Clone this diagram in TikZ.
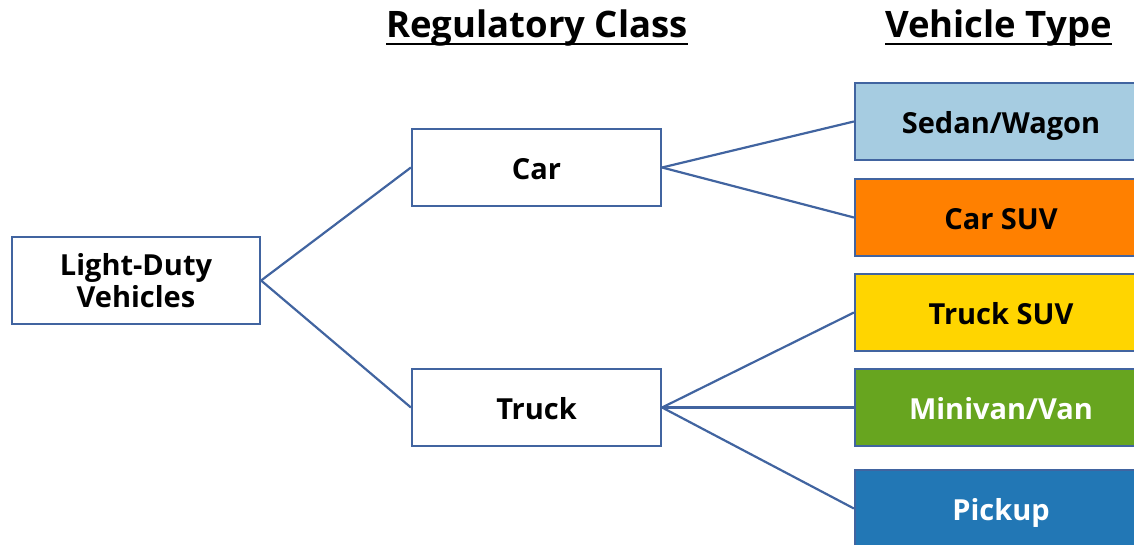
\documentclass[tikz,border=0pt]{standalone}
\usepackage{fontspec}
\setmainfont{Open Sans}
\usetikzlibrary{calc}
\definecolor{edge}{HTML}{4164A0}
\definecolor{sedan}{HTML}{A6CCE1}
\definecolor{carsuv}{HTML}{FF8000}
\definecolor{trucksuv}{HTML}{FFD500}
\definecolor{minivan}{HTML}{67A51F}
\definecolor{pickup}{HTML}{2277B5}
\begin{document}
\begin{tikzpicture}[x=1pt,y=-1pt,
  box/.style={draw=edge,line width=2.2pt,rectangle,inner sep=0pt,align=center,
    font=\fontsize{29}{31.5}\selectfont\bfseries},
  onebox/.style={box,text height=25pt,text depth=1.5pt},
  midbox/.style={onebox,minimum width=249pt,minimum height=77pt},
  typebox/.style={onebox,minimum width=292pt,minimum height=77pt},
  link/.style={draw=edge,line width=2.2pt},
  head/.style={font=\fontsize{36.5}{40}\selectfont\bfseries,inner sep=0pt,anchor=base},
  uline/.style={draw=black,line width=2.4pt}]
\clip (0,0) rectangle (1134,545);
\useasboundingbox (0,0) rectangle (1134,545);
\node[head] (hreg) at (537,38) {Regulatory Class};
\node[head] (htype) at (998.5,38) {Vehicle Type};
\draw[uline] ($(hreg.base west)+(0,6)$) -- ($(hreg.base east)+(0,6)$);
\draw[uline] ($(htype.base west)+(0,6)$) -- ($(htype.base east)+(0,6)$);
\node[box,fill=white,minimum width=248pt,minimum height=87pt] (ldv) at (136,280.5) {Light-Duty\\Vehicles};
\node[midbox,fill=white] (car) at (536.5,167.5) {Car};
\node[midbox,fill=white] (truck) at (536.5,407.5) {Truck};
\node[typebox,fill=sedan] (sedan) at (1001,121.5) {Sedan/Wagon};
\node[typebox,fill=carsuv] (csuv) at (1001,217.5) {Car SUV};
\node[typebox,fill=trucksuv] (tsuv) at (1001,312.5) {Truck SUV};
\node[typebox,fill=minivan,text=white] (van) at (1001,407.5) {Minivan/Van};
\node[typebox,fill=pickup,text=white] (pick) at (1001,508.5) {Pickup};
\draw[link] (ldv.east) -- (car.west);
\draw[link] (ldv.east) -- (truck.west);
\draw[link] (car.east) -- (sedan.west);
\draw[link] (car.east) -- (csuv.west);
\draw[link] (truck.east) -- (tsuv.west);
\draw[link] (truck.east) -- (van.west);
\draw[link] (truck.east) -- (pick.west);
\end{tikzpicture}
\end{document}
